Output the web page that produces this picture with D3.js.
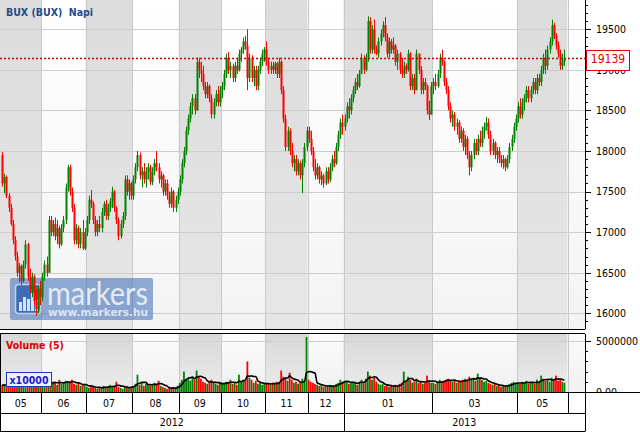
<!DOCTYPE html>
<html><head><meta charset="utf-8">
<script src="https://cdn.jsdelivr.net/npm/d3@7"></script>
<style>
html,body{margin:0;padding:0;background:#fff;}
svg{display:block;font-family:"DejaVu Sans Condensed","DejaVu Sans",sans-serif;}
</style></head><body>
<svg id="chart" width="640" height="434"></svg>
<script>
// ---- DATA (daily BUX, May 2012 - May 2013) ----
const open = [17950,17600,17680,17450,17300,17100,16900,16700,16500,16580,16400,16600,16850,16450,16300,16450,16150,16050,16300,
16200,16450,16600,16500,17150,17000,17100,16950,17050,16850,17050,17150,17550,17800,17500,17300,16900,17050,16850,17000,16800,
17000,17150,17400,17350,17150,17000,17100,17050,17250,17350,17200,17300,17380,17500,17300,17150,16950,17100,17200,17650,17500,17600,
17450,17650,17800,17950,17700,17750,17650,17750,17800,17620,17750,17850,17800,17650,17700,17500,17600,17450,17350,17500,17300,17400,
17500,17650,17850,18000,18250,18400,18550,18650,18500,19100,19000,18950,18800,18700,18800,18650,18450,18600,18700,18600,
18750,18800,18950,19150,19000,19050,18900,19050,19000,19200,19250,19350,19300,18900,19150,18900,19000,18800,19000,19100,19200,
19250,19100,19000,19050,19000,19080,18950,19100,18750,18400,18050,18250,18000,17850,17900,17750,17850,17700,17850,18050,
18250,18150,18000,17800,17700,17800,17650,17700,17600,17750,17650,17800,17900,17850,18050,18200,18350,
18300,18400,18550,18500,18650,18750,18850,18800,18950,19150,19000,19150,19600,19250,19500,19250,19200,19350,19450,19550,
19400,19200,19350,19250,19300,19100,19200,19000,18950,19050,19000,19200,18800,18900,18750,19200,19000,18750,18850,18800,18500,18450,
18800,18850,18800,18950,19150,19100,18850,18750,18550,18400,18450,18300,18350,18150,18250,18050,18150,17950,17800,17950,
18100,18000,18150,18100,18250,18300,18350,18200,18000,18100,17950,18000,17900,17850,17900,17800,17900,18050,18150,18300,
18400,18550,18450,18600,18650,18750,18650,18750,18850,18750,18900,18850,19000,19150,19050,19250,19350,19550,19420,19300,19200,19050,19100];
const high = [17990,17720,17700,17480,17350,17150,16950,16760,16620,16600,16650,16900,16870,16550,16500,16480,16300,16350,16400,
16500,16650,16700,17200,17200,17150,17180,17150,17080,17100,17200,17600,17830,17830,17550,17350,17100,17080,17050,17150,17050,
17200,17450,17520,17380,17200,17150,17200,17300,17380,17400,17350,17420,17560,17520,17320,17180,17150,17250,17700,17700,17650,17620,
17700,17850,18000,17980,17800,17850,17800,17850,17830,17800,17900,18000,17850,17750,17720,17650,17650,17500,17550,17520,17450,17550,
17700,17900,18050,18300,18450,18600,18700,18700,19150,19150,19100,19050,18850,18850,18820,18700,18650,18750,18800,18800,
18850,19000,19200,19220,19100,19080,19100,19150,19250,19280,19400,19420,19500,19200,19180,19050,19050,19050,19150,19250,19280,
19350,19150,19100,19100,19100,19100,19150,19120,18800,18450,18300,18280,18100,17950,17950,17900,17880,17900,18100,18300,
18300,18250,18050,17900,17850,17820,17750,17720,17800,17800,17850,17950,18000,18100,18250,18400,18450,
18450,18600,18650,18700,18800,18900,18950,19000,19200,19180,19200,19660,19650,19550,19620,19300,19400,19500,19600,19650,
19450,19400,19380,19400,19320,19250,19220,19150,19100,19080,19250,19220,18950,18950,19250,19200,19050,18900,18900,18820,18620,18850,
18900,18950,19000,19200,19250,19120,18900,18800,18600,18500,18480,18400,18380,18300,18280,18200,18180,18000,18000,18150,
18150,18200,18250,18300,18350,18420,18400,18250,18150,18120,18050,18050,17950,17950,17920,17950,18100,18200,18350,18450,
18600,18650,18650,18700,18800,18800,18800,18900,18900,18950,18950,19050,19200,19250,19300,19400,19620,19580,19450,19350,19250,19200,19250];
const low = [17560,17480,17420,17250,17080,16850,16650,16450,16380,16350,16380,16550,16400,16250,16200,16100,15970,16000,16100,
16150,16400,16450,16500,16950,16950,16900,16850,16800,16830,17000,17100,17500,17450,17250,16850,16850,16800,16800,16780,16780,
16950,17100,17300,17100,16950,16950,17000,17000,17200,17150,17150,17250,17300,17250,17100,16900,16920,17050,17150,17450,17400,17400,
17400,17600,17750,17650,17550,17600,17550,17650,17580,17580,17700,17750,17600,17550,17450,17450,17400,17300,17300,17250,17250,17350,
17450,17600,17800,17950,18200,18350,18450,18450,18500,18900,18850,18750,18650,18650,18600,18400,18400,18550,18550,18550,
18650,18750,18900,18950,18900,18850,18850,18950,18980,19100,19200,19250,18750,18850,18850,18800,18750,18750,18950,19050,19100,
19050,18950,18950,18950,18950,18900,18900,18700,18350,18000,18000,17950,17800,17750,17700,17700,17650,17480,17800,18000,
18100,17950,17750,17650,17650,17600,17580,17550,17580,17600,17620,17750,17800,17830,18000,18150,18200,
18250,18350,18400,18450,18600,18700,18750,18780,18950,18950,18980,19100,19200,19200,19200,19180,19150,19300,19400,19350,
19150,19150,19200,19200,19050,19000,18950,18900,18900,18950,18980,18750,18750,18700,18750,18950,18700,18700,18750,18450,18380,18450,
18700,18750,18780,18900,19050,18800,18700,18500,18350,18300,18250,18200,18100,18100,18000,17950,17900,17700,17750,17900,
17950,17950,18050,18050,18150,18250,18150,17950,17950,17900,17850,17850,17800,17780,17750,17780,17850,18000,18100,18250,
18350,18400,18400,18500,18600,18600,18600,18700,18700,18700,18800,18800,18950,18950,19000,19200,19300,19380,19250,19150,19000,19000,19050];
const close = [17600,17680,17450,17300,17100,16900,16700,16500,16580,16400,16600,16850,16450,16300,16450,16150,16050,16300,16200,
16450,16600,16500,17150,17000,17100,16950,17050,16850,17050,17150,17550,17800,17500,17300,16900,17050,16850,17000,16800,17000,
17150,17400,17350,17150,17000,17100,17050,17250,17350,17200,17300,17380,17500,17300,17150,16950,17100,17200,17650,17500,17600,17450,
17650,17800,17950,17700,17750,17650,17750,17800,17620,17750,17850,17800,17650,17700,17500,17600,17450,17350,17500,17300,17400,17500,
17650,17850,18000,18250,18400,18550,18650,18500,19100,19000,18950,18800,18700,18800,18650,18450,18600,18700,18600,18750,
18800,18950,19150,19000,19050,18900,19050,19000,19200,19250,19350,19300,18900,19150,18900,19000,18800,19000,19100,19200,19250,
19100,19000,19050,19000,19080,18950,19100,18750,18400,18050,18250,18000,17850,17900,17750,17850,17700,17850,18050,18250,
18150,18000,17800,17700,17800,17650,17700,17600,17750,17650,17800,17900,17850,18050,18200,18350,18300,
18400,18550,18500,18650,18750,18850,18800,18950,19150,19000,19150,19600,19250,19500,19250,19200,19350,19450,19550,19400,
19200,19350,19250,19300,19100,19200,19000,18950,19050,19000,19200,18800,18900,18750,19200,19000,18750,18850,18800,18500,18450,18800,
18850,18800,18950,19150,19100,18850,18750,18550,18400,18450,18300,18350,18150,18250,18050,18150,17950,17800,17950,18100,
18000,18150,18100,18250,18300,18350,18200,18000,18100,17950,18000,17900,17850,17900,17800,17900,18050,18150,18300,18400,
18550,18450,18600,18650,18750,18650,18750,18850,18750,18900,18850,19000,19150,19050,19250,19350,19550,19420,19300,19200,19050,19100,19139];
// volume in thousands of shares
const volumeK = [700,650,800,600,900,700,650,500,600,750,550,900,600,500,650,700,900,600,500,
600,700,900,1100,800,1000,900,700,1200,800,900,1100,1000,900,1200,800,700,900,600,700,800,
500,400,600,500,400,300,500,400,600,500,400,700,500,600,1000,500,400,300,500,600,400,500,
600,800,1700,700,900,600,800,700,600,800,900,700,1100,600,500,400,300,400,300,500,400,600,
900,1200,2000,1300,1400,1100,1500,1200,2100,1600,1300,1000,900,800,1000,1200,900,800,700,900,
800,900,1000,900,1200,800,900,700,1700,1000,1200,1100,3000,1400,1200,900,1100,800,900,700,800,
900,800,700,900,800,1000,900,2100,1500,1300,1100,1900,1200,900,1000,800,900,1300,1100,5400,
1200,1000,900,800,700,600,700,500,600,500,700,600,500,800,900,1200,1000,
1100,1000,800,900,1000,900,700,1000,1200,1000,1300,2000,1600,1200,1400,1000,800,700,800,600,
700,500,600,500,700,600,800,900,2000,1000,1500,1200,900,1000,1300,900,1000,800,900,1600,1100,900,
900,800,1000,1200,1000,1100,1200,1300,1100,1000,1200,900,1100,1000,1200,1300,1100,1500,1200,1400,
1100,1800,1300,1200,1000,1100,900,800,700,800,600,700,500,600,500,700,800,900,1000,800,
900,800,1000,900,1100,800,900,1000,800,1200,900,1600,1300,1100,1200,1000,1400,1200,1600,1100,1200,1000,900];
const priceTicks = [16000,16500,17000,17500,18000,18500,19000,19500];
const volumeTicks = [0,5000000];
const volumeTickLabels = ["0.00","5000000"];
const monthLabels = ["05","06","07","08","09","10","11","12","01","03","05",""];
const monthStartIdx = [0,19,40,62,84,104,125,145,162,204,244,268];
const yearLabels = ["2012","2013"];
const yearStartIdx = [0,162];
const lastClose = 19139;
const titleText = "BUX (BUX)  Napi";
const volTitle = "Volume (5)";
const volUnit = "x10000";
const maPeriod = 5;

// ---- LAYOUT ----
const svg = d3.select("#chart");
const W = 640, plotR = 585;
const mainTop = 0, mainBot = 329, volTop = 334, volBot = 392.5, axTop = 392.5, axMid = 413.5, axBot = 431.5;
const N = close.length;
const x = d3.scaleLinear().domain([0, 268]).range([1.14, 567.56]);
const cx = i => x(i + 0.5);
const y = d3.scaleLinear().domain([16000, 19500]).range([313.3, 29.3]);
const yv = d3.scaleLinear().domain([0, 5000000]).range([392, 341]);

const defs = svg.append("defs");
function grad(id, c1, c2){
  const g = defs.append("linearGradient").attr("id", id).attr("x1",0).attr("y1",0).attr("x2",0).attr("y2",1);
  g.append("stop").attr("offset","0%").attr("stop-color",c1);
  g.append("stop").attr("offset","100%").attr("stop-color",c2);
}
grad("gGray","#dcdcdc","#e6e6e6");
grad("gWhite","#ffffff","#f3f3f3");
grad("vGray","#d8d8d8","#ececec");
grad("vWhite","#fbfbfb","#f0f0f0");
defs.append("clipPath").attr("id","cMain").append("rect").attr("x",0).attr("y",mainTop).attr("width",plotR).attr("height",mainBot-mainTop);
defs.append("clipPath").attr("id","cVol").append("rect").attr("x",0).attr("y",volTop).attr("width",plotR).attr("height",volBot-volTop);

const bands = monthStartIdx.map((s,k) => ({
  x0: k === 0 ? 0 : x(s),
  x1: k < monthStartIdx.length-1 ? x(monthStartIdx[k+1]) : plotR,
  label: monthLabels[k], k
}));

// backgrounds
function drawBands(top, bot, gA, gB){
  svg.append("g").selectAll("rect").data(bands).join("rect")
    .attr("x", d=>d.x0).attr("y", top).attr("width", d=>d.x1-d.x0).attr("height", bot-top)
    .attr("fill", d=> d.k%2===0 ? `url(#${gA})` : `url(#${gB})`);
  svg.append("g").selectAll("line").data(bands.slice(1)).join("line")
    .attr("x1", d=>Math.round(d.x0)+0.5).attr("x2", d=>Math.round(d.x0)+0.5).attr("y1", top).attr("y2", bot)
    .attr("stroke","#c8c8c8").attr("stroke-width",1);
}
drawBands(mainTop, mainBot, "gGray", "gWhite");
drawBands(volTop, volBot, "vGray", "vWhite");

// price gridlines
svg.append("g").selectAll("line").data(priceTicks).join("line")
  .attr("x1",0).attr("x2",plotR).attr("y1",d=>Math.round(y(d))+0.5).attr("y2",d=>Math.round(y(d))+0.5)
  .attr("stroke","#cdcdcd").attr("stroke-width",1);
svg.append("line").attr("x1",0).attr("x2",plotR).attr("y1",Math.round(yv(5000000))+0.5).attr("y2",Math.round(yv(5000000))+0.5)
  .attr("stroke","#cdcdcd");

// logo (watermark)
const logo = svg.append("g");
logo.append("rect").attr("x",10).attr("y",278).attr("width",143).attr("height",42).attr("rx",2)
  .attr("fill","#4d7bbf").attr("opacity",0.62);
logo.append("rect").attr("x",15.5).attr("y",284.5).attr("width",25).attr("height",29).attr("rx",3)
  .attr("fill","#2f64b3").attr("stroke","#c9d8ee").attr("stroke-width",1.5).attr("opacity",0.85);
[[19,302,3,9],[23,297,3,14],[27,299,3,12],[31,293,3,18],[35,300,3,11]].forEach(b=>{
  logo.append("rect").attr("x",b[0]).attr("y",b[1]).attr("width",b[2]).attr("height",b[3]).attr("fill","#e8eef8").attr("opacity",0.9);
});
logo.append("text").attr("x",47).attr("y",305).attr("font-family","Lato, 'Open Sans', sans-serif")
  .attr("font-size",33).attr("textLength",101).attr("lengthAdjust","spacingAndGlyphs")
  .attr("fill","#eef3fb").attr("opacity",0.9).text("markers");
logo.append("text").attr("x",48).attr("y",316).attr("font-family","'DejaVu Sans', sans-serif").attr("font-weight","bold")
  .attr("font-size",10).attr("textLength",100).attr("lengthAdjust","spacingAndGlyphs")
  .attr("fill","#e6edf8").attr("opacity",0.9).text("www.markers.hu");

// candles
const upC = "#008200", dnC = "#ff0000";
const gC = svg.append("g").attr("clip-path","url(#cMain)");
const days = d3.range(N);
gC.selectAll("line").data(days).join("line")
  .attr("x1", i=>Math.round(cx(i))+0.5).attr("x2", i=>Math.round(cx(i))+0.5)
  .attr("y1", i=>y(high[i])).attr("y2", i=>y(low[i]))
  .attr("stroke", i=> close[i]>=open[i] ? upC : dnC).attr("stroke-width",1);
gC.selectAll("rect").data(days).join("rect")
  .attr("x", i=>Math.round(cx(i))-0.5).attr("width",2)
  .attr("y", i=>y(Math.max(open[i],close[i])))
  .attr("height", i=>Math.max(1, Math.abs(y(open[i])-y(close[i]))))
  .attr("fill", i=> close[i]>=open[i] ? upC : dnC);

// last close dotted line
gC.append("line").attr("x1",0).attr("x2",plotR).attr("y1",y(lastClose)).attr("y2",y(lastClose))
  .attr("stroke","#cc0000").attr("stroke-width",1.5).attr("stroke-dasharray","2,2");

// volume bars + MA
const gV = svg.append("g").attr("clip-path","url(#cVol)");
gV.selectAll("rect").data(days).join("rect")
  .attr("x", i=>cx(i)-0.9).attr("width",1.8)
  .attr("y", i=>yv(volumeK[i]*1000)).attr("height", i=>yv(0)-yv(volumeK[i]*1000))
  .attr("fill", i=> close[i]>=open[i] ? upC : dnC);
const ma = days.map(i=>{
  const w = volumeK.slice(Math.max(0,i-maPeriod+1), i+1);
  return d3.mean(w)*1000;
});
gV.append("path").datum(days)
  .attr("d", d3.line().x(i=>cx(i)).y(i=>yv(ma[i])).curve(d3.curveMonotoneX))
  .attr("fill","none").attr("stroke","#000").attr("stroke-width",1.6);

// titles
svg.append("text").attr("x",6).attr("y",15.5).attr("font-weight","bold").attr("font-size",10.5)
  .attr("fill","#1f4a8c").attr("xml:space","preserve").style("white-space","pre").text(titleText);
svg.append("text").attr("x",6).attr("y",349).attr("font-weight","bold").attr("font-size",10.5)
  .attr("fill","#e00000").text(volTitle);
svg.append("rect").attr("x",6.5).attr("y",372.5).attr("width",45).attr("height",14)
  .attr("fill","#eef0ff").attr("stroke","#2233cc").attr("stroke-width",1);
svg.append("text").attr("x",29).attr("y",383.5).attr("text-anchor","middle").attr("font-weight","bold")
  .attr("font-size",10.5).attr("fill","#1a1acc").text(volUnit);

// right price axis
const minorP = d3.range(15900, 19900, 100);
svg.append("g").selectAll("line").data(minorP).join("line")
  .attr("x1",plotR).attr("x2", d=> d%500===0 ? plotR+6 : plotR+3)
  .attr("y1", d=>Math.round(y(d))+0.5).attr("y2", d=>Math.round(y(d))+0.5)
  .attr("stroke","#000");
svg.append("g").selectAll("text").data(priceTicks).join("text")
  .attr("x",596).attr("y", d=>y(d)).attr("dy","0.36em").attr("font-size",10.5).attr("fill","#000")
  .text(d=>d);
svg.append("line").attr("x1",plotR+0.5).attr("x2",plotR+0.5).attr("y1",0).attr("y2",mainBot+0.5).attr("stroke","#000");

// last close label
svg.append("rect").attr("x",586.5).attr("y",50.5).attr("width",43).attr("height",20)
  .attr("fill","#fff").attr("stroke","#dd0000");
svg.append("text").attr("x",608).attr("y",y(lastClose)).attr("dy","0.36em").attr("text-anchor","middle")
  .attr("font-size",12).attr("fill","#dd0000").text(lastClose);

// volume axis
const minorV = d3.range(0, 6000000, 1000000);
svg.append("g").selectAll("line").data(minorV).join("line")
  .attr("x1",plotR).attr("x2", d=> d===5000000 ? plotR+6 : plotR+3)
  .attr("y1", d=>Math.round(yv(d))+0.5).attr("y2", d=>Math.round(yv(d))+0.5).attr("stroke","#000");
svg.append("g").selectAll("text").data(volumeTicks).join("text")
  .attr("x",596).attr("y", d=>yv(d)).attr("dy","0.36em").attr("font-size",10.5).attr("fill","#000")
  .text((d,k)=>volumeTickLabels[k]);
svg.append("line").attr("x1",plotR+0.5).attr("x2",plotR+0.5).attr("y1",volTop).attr("y2",volBot).attr("stroke","#000");

// panel borders
svg.append("line").attr("x1",0).attr("x2",plotR).attr("y1",mainBot+0.5).attr("y2",mainBot+0.5).attr("stroke","#000");
svg.append("line").attr("x1",0).attr("x2",plotR).attr("y1",volTop-0.5).attr("y2",volTop-0.5).attr("stroke","#000");

// bottom time axis
svg.append("rect").attr("x",0).attr("y",axTop).attr("width",W).attr("height",434-axTop).attr("fill","#fff");
svg.append("line").attr("x1",0).attr("x2",W).attr("y1",axTop).attr("y2",axTop).attr("stroke","#000");
svg.append("line").attr("x1",0).attr("x2",plotR).attr("y1",axMid).attr("y2",axMid).attr("stroke","#000");
svg.append("line").attr("x1",0).attr("x2",plotR).attr("y1",axBot).attr("y2",axBot).attr("stroke","#000");
svg.append("line").attr("x1",plotR+0.5).attr("x2",plotR+0.5).attr("y1",axTop).attr("y2",axBot).attr("stroke","#000");
svg.append("line").attr("x1",0.5).attr("x2",0.5).attr("y1",volTop-0.5).attr("y2",axBot).attr("stroke","#000");
svg.append("g").selectAll("line").data(bands.slice(1)).join("line")
  .attr("x1", d=>Math.round(d.x0)+0.5).attr("x2", d=>Math.round(d.x0)+0.5)
  .attr("y1", axTop).attr("y2", axMid).attr("stroke","#000");
svg.append("g").selectAll("text").data(bands.filter(d=>d.label)).join("text")
  .attr("x", d=>(d.x0+d.x1)/2).attr("y", (axTop+axMid)/2).attr("dy","0.36em")
  .attr("text-anchor","middle").attr("font-size",10.5).attr("fill","#000").text(d=>d.label);
const years = yearStartIdx.map((s,k)=>({x0: k===0?0:x(s), x1: k<yearStartIdx.length-1 ? x(yearStartIdx[k+1]) : plotR, label: yearLabels[k]}));
svg.append("g").selectAll("line").data(years.slice(1)).join("line")
  .attr("x1", d=>Math.round(d.x0)+0.5).attr("x2", d=>Math.round(d.x0)+0.5)
  .attr("y1", axTop).attr("y2", axBot).attr("stroke","#000");
svg.append("g").selectAll("text").data(years).join("text")
  .attr("x", d=>(d.x0+d.x1)/2).attr("y", (axMid+axBot)/2).attr("dy","0.36em")
  .attr("text-anchor","middle").attr("font-size",10.5).attr("fill","#000").text(d=>d.label);
</script>
</body></html>
